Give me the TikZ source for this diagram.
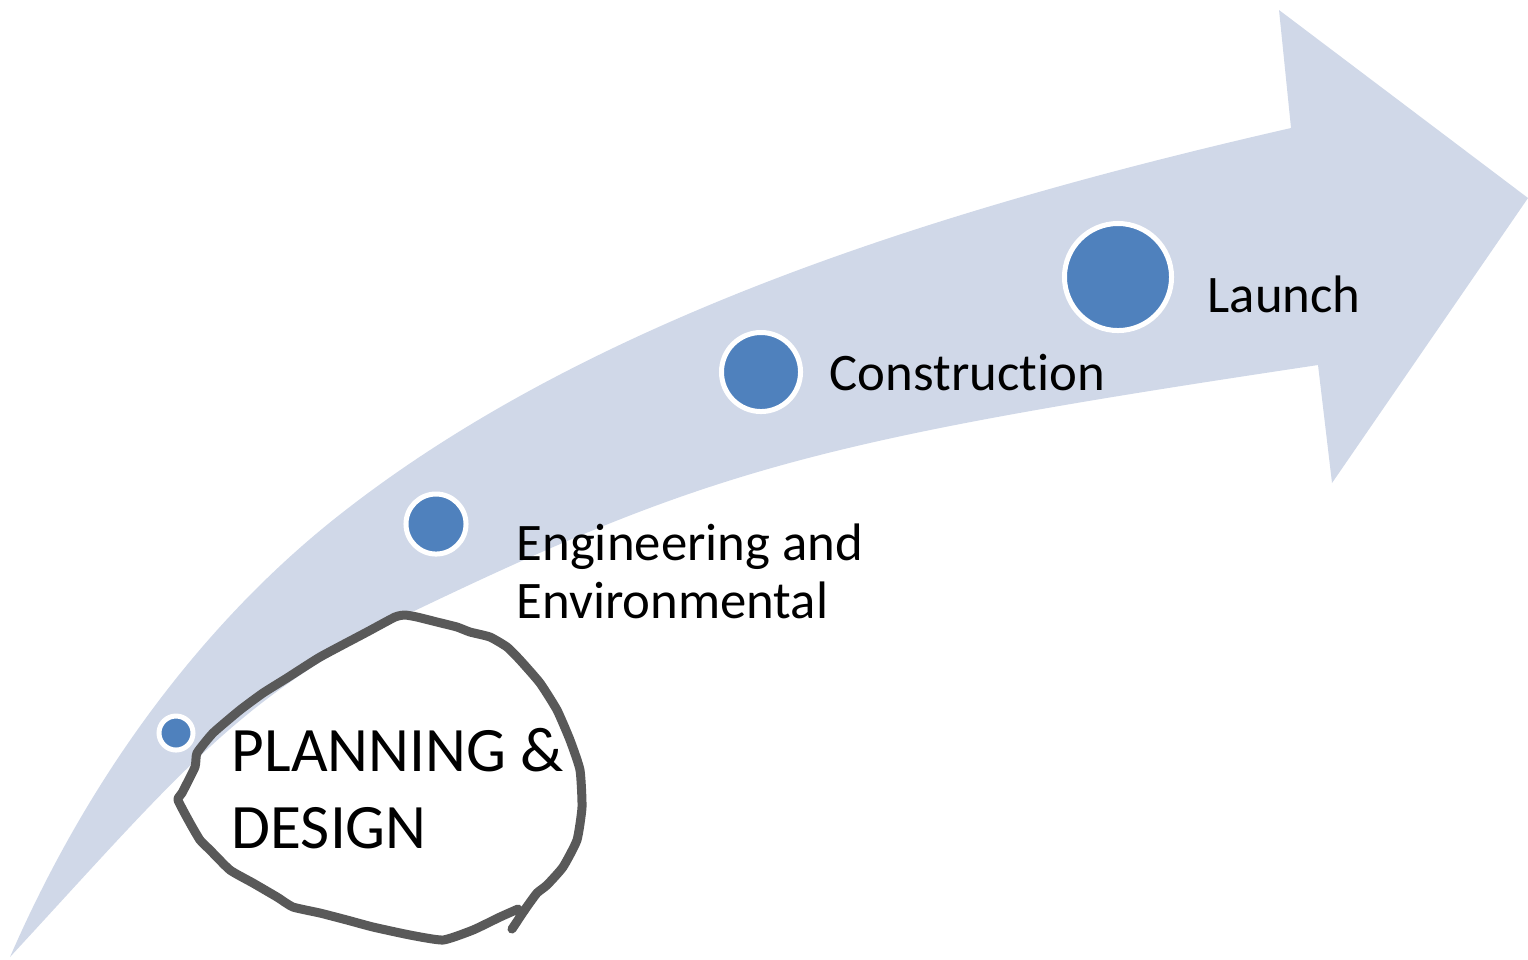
\documentclass[tikz,border=0pt]{standalone}
\usepackage{fontspec}
\setmainfont{Carlito}[Ligatures=NoCommon]
\definecolor{band}{HTML}{D0D8E8}
\definecolor{dotblue}{HTML}{4F81BD}
\definecolor{pen}{HTML}{595959}
\tikzset{
  stagedot/.style={circle, fill=dotblue, draw=white, line width=0.05cm, inner sep=0},
  stagetext/.style={anchor=base west, inner sep=0, align=left,
    font=\fontsize{15}{16.3}\selectfont},
  bigtext/.style={anchor=base west, inner sep=0, align=left,
    font=\fontsize{18}{21.9}\selectfont}
}

\begin{document}
\begin{tikzpicture}[x=0.01cm, y=-0.01cm]
  \useasboundingbox (0, 0) rectangle (1528, 959);
  \fill[band] (10, 957) .. controls (100, 750) and (223, 608) .. (333, 520)
    .. controls (583, 320) and (941, 208) .. (1291, 128)
    -- (1279, 10) -- (1528, 198) -- (1332, 483) -- (1318, 365)
    .. controls (818, 440) and (710, 469) .. (410, 613)
    .. controls (240, 695) and (180, 773) .. (10, 957) -- cycle;
  \foreach \n/\x/\y/\d in {plan/176/733/0.34, eng/436/524/0.60,
                           con/761/372/0.79, lau/1118/277/1.07}
    \node[stagedot, minimum size=\d cm] (\n) at (\x, \y) {};
  \node[stagetext] (englabel) at (516, 618) {Engineering and\\Environmental};
  \node[stagetext] (conlabel) at (829, 390) {Construction};
  \node[stagetext] (laulabel) at (1207, 312) {Launch};
  \node[bigtext] (planlabel) at (231, 848) {PLANNING \&\\DESIGN};
  \draw[pen, line width=0.09cm, line join=round, line cap=round]
    plot[smooth, tension=0.3] coordinates {(512, 929) (526, 908) (537, 893)
      (547, 885) (563, 867) (577, 840) (582, 807) (580, 770) (570, 740)
      (557, 710) (540, 683) (520, 660) (507, 647) (490, 637) (470, 632)
      (457, 627) (437, 622) (417, 617) (405, 615) (395, 617) (367, 632)
      (320, 657) (287, 678) (263, 693) (240, 710) (213, 733) (197, 753)
      (195, 767) (182, 793) (178, 800) (190, 823) (200, 840) (210, 850)
      (230, 870) (253, 883) (277, 897) (293, 907) (320, 913) (347, 920)
      (373, 927) (410, 935) (443, 940) (473, 930) (500, 917) (518, 909)};
\end{tikzpicture}
\end{document}
